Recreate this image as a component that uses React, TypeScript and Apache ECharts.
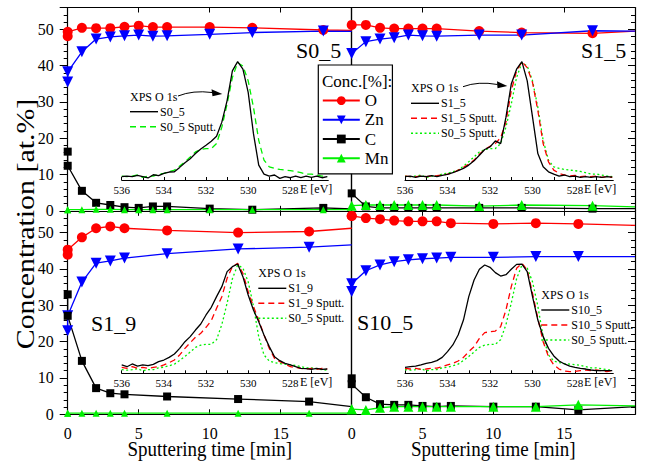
import React, { useEffect, useRef } from 'react';
import * as echarts from 'echarts';

const FONT = 'Liberation Serif, Times New Roman, serif';

// ---------- Depth profiles: sputtering time [min] vs concentration [at.%] ----------
const timeS05 = [0, 0, 1, 2, 3, 4, 5, 6, 7, 10, 13, 18, 20];
const oS05 = [48.1, 49.3, 50.4, 50.3, 50.3, 50.7, 51.0, 50.6, 50.6, 50.6, 50.4, 49.8, 49.7];
const znS05 = [35.5, 38.3, 43.8, 47.3, 47.9, 48.2, 48.4, 48.1, 48.2, 48.6, 49.1, 49.5, 49.4];
const cS05 = [16.3, 12.4, 5.5, 2.2, 1.6, 1.0, 0.8, 1.2, 1.2, 0.6, 0.3, 0.8, 0.5];
const mnS05 = [0.3, 0.3, 0.3, 0.4, 0.4, 0.3, 0.3, 0.3, 0.3, 0.3, 0.3, 0.3, 0.3];

const timeS15 = [0, 1, 2, 3, 4, 5, 6, 9, 12, 17, 20];
const oS15 = [51.2, 51.2, 50.4, 50.2, 50.2, 50.2, 50.2, 49.5, 49.1, 48.9, 49.5];
const znS15 = [43.3, 46.6, 47.3, 47.7, 48.4, 48.2, 48.1, 48.4, 48.4, 49.6, 49.5];
const cS15 = [4.8, 1.2, 0.8, 0.8, 0.8, 0.8, 0.8, 0.8, 0.8, 0.6, 0.6];
const mnS15 = [1.4, 1.6, 1.6, 1.6, 1.6, 1.6, 1.6, 1.3, 1.6, 1.4, 1.1];

const timeS19 = [0, 0, 1, 2, 3, 4, 7, 12, 17, 20];
const oS19 = [43.9, 45.3, 48.7, 51.2, 51.7, 51.2, 50.6, 50.0, 50.3, 51.2];
const znS19 = [23.0, 27.1, 36.4, 41.6, 42.2, 43.0, 44.2, 45.5, 46.0, 46.6];
const cS19 = [33.0, 27.1, 14.7, 7.2, 5.8, 5.5, 4.9, 4.2, 3.5, 2.1];
const mnS19 = [0.3, 0.3, 0.3, 0.3, 0.3, 0.3, 0.3, 0.3, 0.3, 0.3];

const timeS105 = [0, 0, 1, 2, 3, 4, 5, 6, 7, 10, 13, 16, 20];
const oS105 = [54.6, 54.6, 54.0, 53.7, 53.3, 53.1, 53.1, 53.1, 52.6, 52.4, 52.6, 52.4, 52.0];
const znS105 = [33.8, 35.9, 39.5, 41.1, 42.0, 42.5, 42.8, 43.0, 43.2, 43.2, 43.4, 43.4, 43.4];
const cS105 = [9.9, 8.3, 4.7, 2.8, 2.6, 2.6, 2.3, 2.1, 2.3, 2.1, 2.1, 1.2, 2.1];
const mnS105 = [1.4, 1.4, 1.2, 1.8, 2.1, 2.1, 2.1, 2.1, 2.1, 2.1, 2.1, 2.6, 2.3];

const xTicks = [0, 5, 10, 15];

// ---------- XPS O 1s spectra (binding energy [eV] vs normalised intensity) ----------
const energy = [536, 535.75, 535.5, 535.25, 535, 534.75, 534.5, 534.25, 534, 533.75, 533.5, 533.25, 533, 532.75,
  532.5, 532.25, 532, 531.75, 531.5, 531.25, 531, 530.75, 530.5, 530.25, 530, 529.75, 529.5, 529.25, 529,
  528.75, 528.5, 528.25, 528, 527.75, 527.5, 527.25, 527, 526.75, 526.5, 526.25];
const energyLabels = [536, 534, 532, 530, 528];
const energyTicks = [536, 535, 534, 533, 532, 531, 530, 529, 528, 527];

const specS05 = [2.8, 3.3, 2.8, 3.9, 2.8, 1.7, 4.4, 3.6, 5.6, 6.7, 6.9, 10.6, 14.4, 17.8, 22.2, 26.1, 29.2, 32.5, 36.7, 48.6,
  66.7, 91.7, 99.4, 93.1, 73.6, 38.9, 12.5, 5.0, 3.3, 4.2, 1.4, 2.8, 1.9, 3.3, 1.9, 3.3, 2.2, 3.3, 1.9, 2.8];
const specS05Sputt = [3.3, 2.8, 3.3, 4.2, 2.2, 3.3, 3.3, 5.0, 5.6, 6.9, 8.3, 11.7, 15.3, 19.4, 23.6, 25.6, 26.4, 26.4, 30.6, 44.4,
  63.9, 86.1, 98.6, 95.8, 83.3, 61.1, 33.3, 16.7, 11.1, 9.7, 8.9, 8.3, 7.8, 7.2, 6.1, 5.0, 5.0, 4.2, 3.3, 2.8];
const specS15 = [2.8, 3.3, 2.2, 3.3, 2.8, 3.6, 2.8, 3.9, 4.7, 6.1, 7.8, 9.7, 12.5, 16.1, 20.8, 25.6, 27.8, 32.8, 30.6, 52.8,
  80.6, 93.1, 99.4, 83.3, 52.8, 22.2, 11.1, 6.9, 5.0, 3.3, 4.2, 2.8, 3.3, 2.2, 2.8, 2.2, 2.8, 2.2, 2.8, 2.5];
const specS15Sputt = [3.3, 2.8, 2.8, 3.3, 2.8, 3.3, 3.6, 4.2, 5.0, 6.1, 8.3, 10.6, 13.3, 16.7, 21.7, 25.6, 28.3, 30.6, 35.6, 48.6,
  75.0, 91.7, 99.4, 94.4, 81.9, 58.3, 30.6, 15.3, 8.3, 5.6, 4.2, 3.3, 3.9, 2.8, 3.3, 2.8, 3.3, 2.2, 2.8, 2.2];
const specS19 = [7.6, 6.0, 8.5, 6.6, 7.6, 7.0, 8.2, 10.6, 12.1, 14.5, 17.6, 22.7, 28.8, 33.4, 39.4, 44.9, 53.1, 60.1, 69.8, 78.9,
  92.6, 97.1, 99.5, 88.0, 71.3, 57.7, 47.0, 34.9, 24.3, 15.1, 11.5, 9.1, 7.6, 6.0, 4.5, 4.2, 3.6, 4.5, 3.6, 3.9];
const specS19Sputt = [5.4, 4.5, 6.0, 4.5, 5.4, 4.5, 5.4, 6.0, 7.6, 9.7, 12.1, 16.7, 22.7, 27.9, 32.8, 36.4, 41.9, 47.9, 59.2, 69.8,
  86.5, 97.1, 100.1, 91.0, 74.4, 60.7, 48.5, 34.9, 22.7, 13.6, 10.6, 8.5, 6.0, 5.4, 4.5, 3.9, 4.5, 3.6, 4.5, 3.9];
const specS105 = [5.4, 6.0, 6.6, 7.6, 9.1, 10.0, 11.5, 14.5, 19.7, 25.8, 34.9, 48.5, 69.8, 85.0, 94.7, 98.6, 96.5, 91.7, 88.6, 89.8,
  94.7, 99.2, 99.5, 92.6, 69.8, 48.5, 33.4, 22.7, 15.8, 11.2, 8.5, 6.6, 5.4, 4.5, 3.9, 3.0, 2.4, 2.4, 2.4, 2.4];
const specS105Sputt = [4.5, 3.9, 4.5, 3.6, 3.9, 4.5, 4.8, 6.0, 7.6, 9.1, 11.2, 14.5, 19.7, 24.3, 31.8, 37.0, 37.9, 38.5, 42.5, 57.7,
  78.9, 95.6, 100.2, 94.1, 72.8, 50.1, 28.8, 15.1, 7.6, 3.9, 2.1, 1.5, 1.8, 2.4, 3.0, 2.4, 3.0, 2.4, 1.5, 2.4];

const RED = '#ff0000';
const BLUE = '#0000ff';
const GREEN = '#00f000';
const BLACK = '#000000';

export default function App() {
  const ref = useRef<HTMLDivElement>(null);

  useEffect(() => {
    if (!ref.current) return;
    const chart = echarts.init(ref.current, undefined, { renderer: 'svg' });

    const mainGrids = [
      { left: 67.7, top: 7.5, width: 284, height: 203.3 },
      { left: 351.7, top: 7.5, width: 283.3, height: 203.3 },
      { left: 67.7, top: 210.8, width: 284, height: 203.5 },
      { left: 351.7, top: 210.8, width: 283.3, height: 203.5 },
    ];
    const insetGrids = [
      { left: 121.7, top: 55, width: 206.6, height: 125 },
      { left: 405, top: 55, width: 208.3, height: 125 },
      { left: 121.7, top: 258, width: 206.6, height: 115.3 },
      { left: 405, top: 258, width: 208.3, height: 115.3 },
    ];
    const grid = [...mainGrids, ...insetGrids].map((g) => ({ ...g, outerBoundsMode: 'none', containLabel: false }));

    const axLine = { show: true, onZero: false, lineStyle: { color: BLACK, width: 1.2 } };
    const labelStyle = { color: BLACK, fontFamily: FONT, fontSize: 16 };

    const xAxis: any[] = [];
    const yAxis: any[] = [];
    for (let i = 0; i < 4; i++) {
      const bottomRow = i >= 2;
      const leftCol = i % 2 === 0;
      xAxis.push({
        type: 'value', gridIndex: i, position: 'bottom', min: 0, max: 20,
        axisLine: axLine, splitLine: { show: false },
        axisTick: { show: true, inside: true, length: 5, customValues: xTicks, lineStyle: { color: BLACK } },
        minorTick: { show: false },
        axisLabel: { show: bottomRow, customValues: xTicks, margin: 11, ...labelStyle },
      });
      xAxis.push({
        type: 'value', gridIndex: i, position: 'top', min: 0, max: 20,
        axisLine: axLine, splitLine: { show: false },
        axisTick: { show: true, inside: true, length: 5, customValues: xTicks, lineStyle: { color: BLACK } },
        axisLabel: { show: false },
      });
      yAxis.push({
        type: 'value', gridIndex: i, position: 'left', min: 0, max: 56, interval: 10,
        axisLine: axLine, splitLine: { show: false },
        axisTick: { show: leftCol, inside: false, length: 8, lineStyle: { color: BLACK } },
        minorTick: { show: leftCol, splitNumber: 5, length: 4, lineStyle: { color: BLACK } },
        axisLabel: { show: leftCol, showMaxLabel: false, margin: 14, ...labelStyle },
      });
      yAxis.push({
        type: 'value', gridIndex: i, position: 'right', min: 0, max: 56, interval: 10,
        axisLine: axLine, splitLine: { show: false },
        axisTick: { show: !leftCol, inside: true, length: 7, lineStyle: { color: BLACK } },
        minorTick: { show: !leftCol, splitNumber: 5, length: 4, lineStyle: { color: BLACK } },
        axisLabel: { show: false },
      });
    }
    for (let j = 0; j < 4; j++) {
      xAxis.push({
        type: 'value', gridIndex: 4 + j, position: 'bottom', min: 526.2, max: 536, inverse: true,
        axisLine: { show: true, onZero: false, lineStyle: { color: BLACK, width: 1 } },
        splitLine: { show: false },
        axisTick: { show: true, inside: true, length: 3, customValues: energyTicks, lineStyle: { color: BLACK } },
        axisLabel: { show: true, customValues: energyLabels, margin: 4, color: BLACK, fontFamily: FONT, fontSize: 11 },
      });
      yAxis.push({ type: 'value', gridIndex: 4 + j, min: 0, max: 105, show: false });
    }

    const profile = (name: string, color: string, symbol: string, size: number, rotate: number,
      times: number[], vals: number[], gi: number) => ({
      type: 'line', name, xAxisIndex: 2 * gi, yAxisIndex: 2 * gi,
      data: times.map((t, k) => (t >= 20 ? { value: [t, vals[k]], symbol: 'none' } : [t, vals[k]])),
      symbol, symbolSize: size, symbolRotate: rotate, showSymbol: true, clip: true,
      itemStyle: { color }, lineStyle: { color, width: 1.3 }, z: 3,
    });

    const panels = [
      { t: timeS05, o: oS05, zn: znS05, c: cS05, mn: mnS05, mnSize: 7 },
      { t: timeS15, o: oS15, zn: znS15, c: cS15, mn: mnS15, mnSize: 10 },
      { t: timeS19, o: oS19, zn: znS19, c: cS19, mn: mnS19, mnSize: 7 },
      { t: timeS105, o: oS105, zn: znS105, c: cS105, mn: mnS105, mnSize: 10 },
    ];
    const series: any[] = [];
    panels.forEach((p, gi) => {
      series.push(profile('O', RED, 'circle', 10, 0, p.t, p.o, gi));
      series.push(profile('Zn', BLUE, 'triangle', 11, 180, p.t, p.zn, gi));
      series.push(profile('C', BLACK, 'rect', 8, 0, p.t, p.c, gi));
      series.push(profile('Mn', GREEN, 'triangle', p.mnSize, 0, p.t, p.mn, gi));
    });

    const spec = (name: string, vals: number[], j: number, color: string, dash: any) => ({
      type: 'line', name, xAxisIndex: 8 + j, yAxisIndex: 8 + j,
      data: energy.map((e, k) => [e, vals[k]]),
      showSymbol: false, symbol: 'none', clip: true, z: 4,
      lineStyle: { color, width: 1.3, type: dash },
    });
    const DASH = [6, 4];
    const DOT = [2, 2.5];
    series.push(spec('S0_5 Sputt.', specS05Sputt, 0, GREEN, DASH));
    series.push(spec('S0_5', specS05, 0, BLACK, 'solid'));
    series.push(spec('S0_5 Sputt. ', specS05Sputt, 1, GREEN, DOT));
    series.push(spec('S1_5 Sputt.', specS15Sputt, 1, RED, DASH));
    series.push(spec('S1_5', specS15, 1, BLACK, 'solid'));
    series.push(spec('S0_5 Sputt.  ', specS05Sputt, 2, GREEN, DOT));
    series.push(spec('S1_9 Sputt.', specS19Sputt, 2, RED, DASH));
    series.push(spec('S1_9', specS19, 2, BLACK, 'solid'));
    series.push(spec('S0_5 Sputt.   ', specS05Sputt, 3, GREEN, DOT));
    series.push(spec('S10_5 Sputt.', specS105Sputt, 3, RED, DASH));
    series.push(spec('S10_5', specS105, 3, BLACK, 'solid'));

    const txt = (text: string, x: number, y: number, size: number, extra: any = {}) => ({
      type: 'text', x, y, z: 50,
      style: { text, fill: BLACK, fontSize: size, fontFamily: FONT, verticalAlign: 'middle', align: 'left' },
      ...extra,
    });
    const seg = (x1: number, x2: number, y: number, color: string, dash: any) => ({
      type: 'line', z: 50, shape: { x1, y1: y, x2, y2: y },
      style: { stroke: color, lineWidth: 1.4, lineDash: dash },
    });
    const insetLegend = (x: number, y0: number, rows: { name: string; color: string; dash: any }[]) => {
      const els: any[] = [txt('XPS O 1s', x, y0, 12)];
      rows.forEach((r, k) => {
        const y = y0 + 15 * (k + 1);
        els.push(seg(x, x + 28, y, r.color, r.dash));
        els.push(txt(r.name, x + 30, y, 12));
      });
      return els;
    };

    const graphic: any[] = [
      // axis titles
      {
        type: 'text', x: 25, y: 224, z: 50, rotation: Math.PI / 2, scaleX: 1.15,
        style: { text: 'Concentration [at.%]', fill: BLACK, fontSize: 26, fontFamily: FONT, align: 'center', verticalAlign: 'middle' },
      },
      {
        type: 'text', x: 209.7, y: 449, z: 50, scaleY: 1.15,
        style: { text: 'Sputtering time [min]', fill: BLACK, fontSize: 19, fontFamily: FONT, align: 'center', verticalAlign: 'middle' },
      },
      {
        type: 'text', x: 493.3, y: 449, z: 50, scaleY: 1.15,
        style: { text: 'Sputtering time [min]', fill: BLACK, fontSize: 19, fontFamily: FONT, align: 'center', verticalAlign: 'middle' },
      },
      // panel labels
      txt('S0_5', 296, 50, 22),
      txt('S1_5', 581, 50, 22),
      txt('S1_9', 91, 323, 22),
      txt('S10_5', 357, 322, 22),
      // inset energy axis names
      txt('E [eV]', 300, 189, 12),
      txt('E [eV]', 584, 189, 12),
      txt('E [eV]', 300, 382, 12),
      txt('E [eV]', 584, 382, 12),
      // legend title
      txt('Conc.[%]:', 322, 81.5, 17),
      // arrows
      {
        type: 'bezierCurve', z: 50,
        shape: { x1: 178, y1: 96, cpx1: 193, cpy1: 90, x2: 212, y2: 92.5 },
        style: { stroke: BLACK, lineWidth: 1, fill: 'none' },
      },
      { type: 'polygon', z: 50, shape: { points: [[222.3, 94], [211.5, 89.3], [212.5, 96.3]] }, style: { fill: BLACK } },
      {
        type: 'bezierCurve', z: 50,
        shape: { x1: 463, y1: 86.7, cpx1: 478, cpy1: 81, x2: 497.5, y2: 84.5 },
        style: { stroke: BLACK, lineWidth: 1, fill: 'none' },
      },
      { type: 'polygon', z: 50, shape: { points: [[507.3, 86], [497, 81.3], [497.5, 88.3]] }, style: { fill: BLACK } },
      ...insetLegend(130, 96.7, [
        { name: 'S0_5', color: BLACK, dash: null },
        { name: 'S0_5 Sputt.', color: GREEN, dash: [6, 4] },
      ]),
      ...insetLegend(411, 88.3, [
        { name: 'S1_5', color: BLACK, dash: null },
        { name: 'S1_5 Sputt.', color: RED, dash: [6, 4] },
        { name: 'S0_5 Sputt.', color: GREEN, dash: [2, 2.5] },
      ]),
      ...insetLegend(258.3, 273.3, [
        { name: 'S1_9', color: BLACK, dash: null },
        { name: 'S1_9 Sputt.', color: RED, dash: [6, 4] },
        { name: 'S0_5 Sputt.', color: GREEN, dash: [2, 2.5] },
      ]),
      ...insetLegend(541.3, 295, [
        { name: 'S10_5', color: BLACK, dash: null },
        { name: 'S10_5 Sputt.', color: RED, dash: [6, 4] },
        { name: 'S0_5 Sputt.', color: GREEN, dash: [2, 2.5] },
      ]),
    ];

    chart.setOption({
      animation: false,
      backgroundColor: '#ffffff',
      grid,
      xAxis,
      yAxis,
      series,
      legend: {
        show: true, data: ['O', 'Zn', 'C', 'Mn'], orient: 'vertical', left: 318.3, top: 65,
        itemWidth: 37, itemHeight: 11, itemGap: 0, padding: [26, 4, 6, 3.5],
        backgroundColor: '#ffffff', borderColor: BLACK, borderWidth: 1.2, borderRadius: 0,
        selectedMode: false, z: 20,
        textStyle: { color: BLACK, fontFamily: FONT, fontSize: 17, lineHeight: 19.2 },
      },
      graphic: { elements: graphic },
    });

    return () => chart.dispose();
  }, []);

  return (
    <div
      ref={ref}
      style={{ position: 'fixed', left: 0, top: 0, width: 646, height: 466, background: '#fff' }}
    />
  );
}
